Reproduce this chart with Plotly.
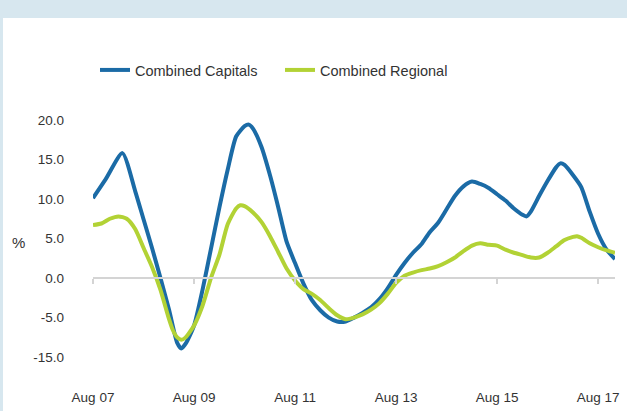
import plotly.graph_objects as go

# ---- data (annual % change) ----
cap_dates = ["2007-08", "2007-11", "2008-03", "2008-06", "2008-08", "2008-10", "2008-12",
             "2009-02", "2009-04", "2009-05", "2009-06", "2009-08", "2009-10", "2009-12",
             "2010-02", "2010-04", "2010-06", "2010-08", "2010-09", "2010-10", "2010-12",
             "2011-02", "2011-04", "2011-06", "2011-08", "2011-10", "2011-12",
             "2012-02", "2012-04", "2012-06", "2012-08", "2012-10", "2012-12",
             "2013-02", "2013-04", "2013-06", "2013-08", "2013-10", "2013-12",
             "2014-02", "2014-04", "2014-06", "2014-08", "2014-10", "2014-12",
             "2015-02", "2015-04", "2015-06", "2015-08", "2015-10", "2015-12",
             "2016-02", "2016-03", "2016-04", "2016-06", "2016-08", "2016-10", "2016-11", "2016-12",
             "2017-02", "2017-04", "2017-06", "2017-08", "2017-10", "2017-12"]
cap_values = [10.1, 12.5, 15.8, 11.0, 7.4, 3.8, 0.0,
              -4.0, -8.2, -8.9, -8.3, -6.0, -1.5, 3.7,
              9.0, 13.7, 17.9, 19.2, 19.4, 18.9, 16.6,
              13.0, 9.0, 4.6, 1.9, -0.7, -2.8,
              -4.1, -5.0, -5.5, -5.5, -5.0, -4.4,
              -3.7, -2.7, -1.3, 0.4, 1.9, 3.2,
              4.3, 5.8, 7.0, 8.7, 10.4, 11.6,
              12.2, 11.9, 11.4, 10.6, 9.8, 8.8,
              8.0, 7.8, 8.4, 10.4, 12.3, 14.0, 14.5, 14.3,
              13.0, 11.5, 8.4, 5.6, 3.6, 2.4]

reg_dates = ["2007-08", "2007-10", "2007-12", "2008-02", "2008-04", "2008-06", "2008-08",
             "2008-10", "2008-12", "2009-02", "2009-03", "2009-04", "2009-05", "2009-06",
             "2009-08", "2009-10", "2009-12", "2010-02", "2010-04", "2010-06", "2010-07",
             "2010-08", "2010-10", "2010-12", "2011-02", "2011-04", "2011-06", "2011-08",
             "2011-10", "2011-12", "2012-02", "2012-04", "2012-06", "2012-08", "2012-10",
             "2012-12", "2013-02", "2013-04", "2013-06", "2013-08", "2013-10", "2013-12",
             "2014-02", "2014-04", "2014-06", "2014-08", "2014-10", "2014-12",
             "2015-02", "2015-04", "2015-06", "2015-08", "2015-10", "2015-12",
             "2016-02", "2016-04", "2016-06", "2016-08", "2016-10", "2016-12",
             "2017-02", "2017-03", "2017-04", "2017-06", "2017-08", "2017-10", "2017-12"]
reg_values = [6.7, 6.9, 7.5, 7.8, 7.5, 6.2, 3.8,
              1.4, -1.5, -5.2, -6.6, -7.5, -7.8, -7.5,
              -6.0, -3.5, 0.0, 3.0, 6.8, 8.8, 9.2,
              9.1, 8.3, 7.1, 5.3, 3.3, 1.2, -0.3,
              -1.4, -2.0, -2.8, -3.8, -4.7, -5.2, -5.0,
              -4.6, -4.0, -3.2, -2.0, -0.6, 0.3, 0.7,
              1.0, 1.2, 1.5, 2.0, 2.6, 3.4,
              4.1, 4.4, 4.2, 4.1, 3.6, 3.2,
              2.9, 2.6, 2.6, 3.2, 4.0, 4.8,
              5.2, 5.3, 5.1, 4.4, 3.9, 3.5, 3.2]

x_tickvals = ["2007-08-01", "2009-08-01", "2011-08-01", "2013-08-01", "2015-08-01", "2017-08-01"]
x_ticktext = ["Aug 07", "Aug 09", "Aug 11", "Aug 13", "Aug 15", "Aug 17"]
y_tickvals = [20, 15, 10, 5, 0, -5, -10]
y_ticktext = ["20.0", "15.0", "10.0", "5.0", "0.0", "-5.0", "-15.0"]

BLUE = "#1b6ba6"
GREEN = "#b2d235"
FONT = "Liberation Sans, Arial, sans-serif"
XRANGE = ["2007-08-01", "2017-12-01"]
YRANGE = [-11.5, 21]

W, H = 627, 411
L, R, T, B = 93, 12, 112, 42
pw, ph = W - L - R, H - T - B


def px(xp):
    return (xp - L) / pw


def py(yp):
    return (H - B - yp) / ph


fig = go.Figure()
fig.add_trace(go.Scatter(x=cap_dates, y=cap_values, name="Combined Capitals", mode="lines",
                         line=dict(color=BLUE, width=4, shape="spline", smoothing=0.6)))
fig.add_trace(go.Scatter(x=reg_dates, y=reg_values, name="Combined Regional", mode="lines",
                         xaxis="x2",
                         line=dict(color=GREEN, width=4, shape="spline", smoothing=0.6)))

fig.update_layout(
    width=W, height=H,
    margin=dict(l=L, r=R, t=T, b=B, autoexpand=False),
    paper_bgcolor="white", plot_bgcolor="white",
    font=dict(family=FONT, size=12, color="#333333"),
    showlegend=True,
    legend=dict(orientation="h", xref="container", yref="container",
                x=95 / W, xanchor="left", y=1 - 70 / H, yanchor="middle",
                font=dict(size=14.5, color="#333333"), itemwidth=30, tracegroupgap=0,
                entrywidth=140, entrywidthmode="pixels",
                bgcolor="rgba(0,0,0,0)"),
    xaxis=dict(range=XRANGE, type="date", tickvals=x_tickvals, ticktext=x_ticktext,
               showgrid=False, zeroline=False, showline=False, ticks="", automargin=False,
               tickfont=dict(size=13.5, color="#333333"), ticklabelstandoff=18),
    xaxis2=dict(range=XRANGE, type="date", overlaying="x", anchor="free",
                position=(0 - YRANGE[0]) / (YRANGE[1] - YRANGE[0]),
                tickvals=x_tickvals, showticklabels=False, showgrid=False, zeroline=False,
                showline=True, linecolor="#d4d4d4", linewidth=1.5, automargin=False,
                ticks="outside", ticklen=5, tickcolor="#d4d4d4", tickwidth=1.5),
    yaxis=dict(range=YRANGE, tickvals=y_tickvals, ticktext=y_ticktext, automargin=False,
               showgrid=False, zeroline=False, showline=False, ticks="",
               tickfont=dict(size=13.5, color="#333333"), ticklabelstandoff=28),
    shapes=[
        dict(type="rect", xref="paper", yref="paper", x0=-0.3, x1=1.1,
             y0=py(18), y1=py(-5), fillcolor="#d7e7ef", line=dict(width=0), layer="below"),
        dict(type="rect", xref="paper", yref="paper", x0=px(-5), x1=px(3),
             y0=py(420), y1=py(18), fillcolor="#d7e7ef", line=dict(width=0), layer="below"),
    ],
    annotations=[
        dict(text="%", xref="paper", yref="paper", x=px(18), y=py(242),
             showarrow=False, font=dict(size=15, color="#333333"),
             xanchor="center", yanchor="middle"),
    ],
)

fig.write_html("out.html", config={"displayModeBar": False},
               post_script="document.body.style.margin='0';document.body.style.overflow='hidden';")
